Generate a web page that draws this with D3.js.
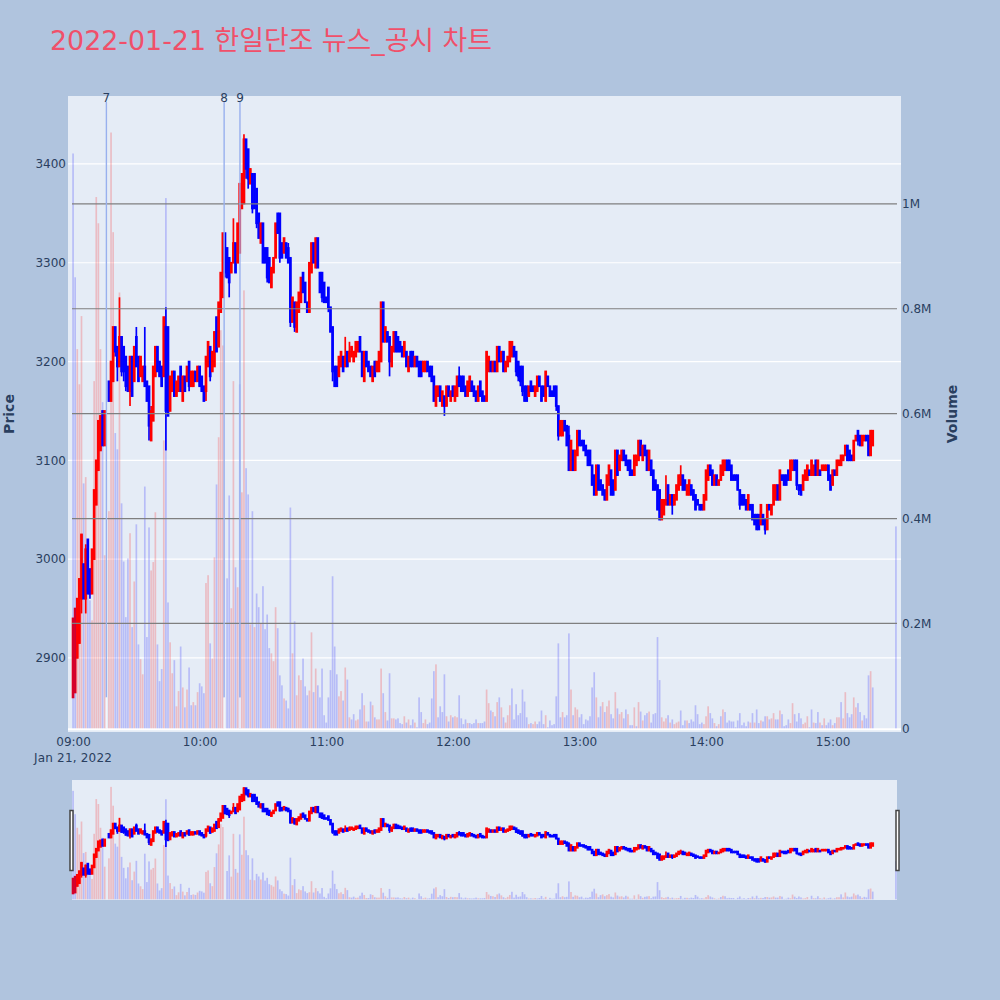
<!DOCTYPE html>
<html><head><meta charset="utf-8">
<script src="https://cdn.jsdelivr.net/npm/d3@7"></script>
<style>html,body{margin:0;padding:0;background:#b0c4de}svg{display:block}</style>
</head><body><svg id="c" width="1000" height="1000"></svg>
<script>
const titleText = "2022-01-21 한일단조 뉴스_공시 차트";
const sessionDate = "Jan 21, 2022";
const timeTicks = [0,60,120,180,240,300,360];
const timeLabels = ["09:00","10:00","11:00","12:00","13:00","14:00","15:00"];
const priceTicks = [2900,3000,3100,3200,3300,3400];
const volumeTicks = [0,200,400,600,800,1000];
const volumeTickLabels = ["0","0.2M","0.4M","0.6M","0.8M","1M"];
const newsLabels = ["7","8","9"];
const newsMinutes = [15.8,71.6,79.1];

const opens = [
2860,2865,2900,2915,2960,2995,2960,3020,2990,2965,
3000,3055,3090,3110,3150,3115,null,3180,3160,3180,
3235,3215,3195,3225,3215,3205,3195,3170,3205,3180,
3225,3205,3185,3180,3195,3180,3175,3120,3140,3185,
3215,3200,3195,3185,3235,3235,3150,3170,3190,3165,
3170,3195,3160,3185,3180,3200,3175,3175,3190,3180,
3195,3185,3175,3170,3195,3215,3190,3195,3245,3215,
3250,3265,3330,3315,3305,3290,3300,3320,3300,3310,
3355,3360,3425,3415,3380,3390,3390,3375,3350,3320,
3340,3315,3315,3305,3275,3290,3305,3350,3350,3320,
3310,3320,3315,3305,3240,3260,3230,3250,3260,3290,
3280,3260,3250,3290,3320,3295,3325,3290,3290,3280,
3265,3275,3255,3235,3195,3195,3185,3195,3205,3195,
3210,3200,3205,3200,3205,3210,3225,3210,3180,3210,
3200,3195,3180,3200,3190,3190,3200,3260,3220,3230,
3225,3195,3210,3230,3225,3220,3215,3205,3210,3190,
3210,3210,3195,3205,3200,3200,3190,3190,3200,3195,
3195,3185,3155,3165,3175,3155,3165,3155,3175,3160,
3175,3160,3165,3185,3185,3185,3175,3165,3170,3180,
3175,3170,3160,3180,3170,3165,3160,3190,3200,3190,
3200,3190,3215,3200,3210,3190,3195,3200,3205,3215,
3210,3200,3195,3195,3175,3175,3165,3180,3175,3165,
3170,3185,3175,3175,3160,3185,3175,3170,3175,3175,
3155,3125,3125,3140,3135,3125,3090,3110,3090,3105,
3130,3120,3120,3115,3110,3110,3095,3085,3065,3095,
3080,3075,3070,3060,3075,3090,3080,3070,3110,3090,
3100,3110,3105,3100,3100,3090,3085,3095,3100,3120,
3100,3115,3110,3090,3100,3090,3080,3075,3070,3040,
3045,3055,3075,3055,3065,3055,3060,3070,3075,3085,
3080,3065,3065,3075,3070,3065,3060,3055,3055,3050,
3060,3080,3095,3090,3075,3085,3075,3080,3085,3090,
3100,3100,3095,3085,3085,3085,3070,3065,3065,3060,
3050,3055,3055,3045,3045,3045,3035,3045,3040,3030,
3055,3045,3055,3060,3075,3060,3085,3085,3085,3090,
3080,3090,3100,3100,3075,3075,3070,3080,3080,3090,
3085,3085,3100,3085,3090,3090,3090,3090,3095,3085,
3075,3090,3085,3095,3095,3100,3105,3115,3110,3105,
3100,3120,3130,3125,3115,3120,3125,3125,3105,3115,
null,null,null,null,null,null,null,null,null,null,3125];
const highs = [
2940,2950,2960,2980,3025,2995,3015,3020,2990,3010,
3070,3100,3140,3145,3150,3150,null,3180,3200,3235,
3235,3215,3265,3225,3215,3205,3195,3205,3205,3215,
3235,3205,3205,3195,3235,3180,3175,3155,3195,3215,
3215,3200,3195,3245,3255,3235,3185,3190,3190,3180,
3185,3195,3185,3185,3195,3200,3190,3190,3190,3195,
3195,3185,3175,3205,3220,3215,3210,3230,3245,3260,
3290,3330,3330,3315,3305,3300,3345,3320,3340,3380,
3390,3430,3425,3415,3395,3390,3390,3375,3350,3340,
3340,3315,3315,3305,3295,3305,3340,3350,3350,3320,
3325,3320,3320,3305,3265,3260,3260,3270,3285,3290,
3280,3260,3300,3320,3320,3325,3325,3290,3290,3280,
3265,3275,3255,3235,3195,3195,3205,3210,3205,3225,
3210,3220,3215,3210,3220,3220,3225,3210,3210,3210,
3200,3195,3195,3200,3200,3210,3260,3260,3235,3230,
3225,3215,3230,3230,3225,3220,3215,3220,3210,3205,
3210,3210,3205,3205,3200,3200,3200,3200,3200,3195,
3195,3185,3175,3175,3175,3170,3165,3175,3175,3170,
3175,3175,3185,3195,3185,3185,3175,3180,3185,3180,
3175,3170,3175,3180,3170,3165,3210,3205,3200,3200,
3200,3215,3215,3210,3210,3200,3205,3220,3220,3215,
3210,3200,3195,3195,3175,3175,3175,3180,3175,3175,
3185,3185,3175,3175,3190,3185,3175,3170,3175,3175,
3155,3140,3140,3140,3135,3135,3120,3110,3110,3130,
3130,3120,3120,3115,3110,3110,3095,3085,3095,3095,
3080,3075,3070,3085,3095,3090,3080,3110,3110,3105,
3110,3110,3105,3100,3100,3090,3105,3105,3120,3120,
3115,3115,3110,3110,3100,3090,3080,3075,3070,3060,
3060,3085,3075,3065,3065,3065,3075,3085,3095,3085,
3080,3075,3080,3075,3070,3065,3060,3055,3055,3065,
3090,3095,3095,3090,3085,3085,3080,3095,3100,3100,
3100,3100,3095,3085,3085,3085,3070,3065,3065,3060,
3065,3055,3055,3045,3045,3045,3055,3045,3040,3055,
3055,3055,3075,3075,3075,3090,3085,3085,3085,3090,
3100,3100,3100,3100,3075,3075,3085,3090,3095,3090,
3100,3095,3100,3100,3090,3095,3095,3095,3095,3085,
3090,3090,3100,3100,3105,3105,3115,3115,3110,3105,
3120,3125,3130,3125,3125,3125,3125,3125,3130,3130,
null,null,null,null,null,null,null,null,null,null,3125];
const lows = [
2860,2865,2900,2915,2945,2960,2945,2965,2960,2965,
3000,3055,3090,3110,3115,3115,null,3160,3160,3180,
3205,3180,3195,3185,3180,3170,3170,3155,3165,3180,
3195,3180,3185,3180,3175,3160,3120,3120,3140,3185,
3190,3185,3175,3185,3110,3145,3150,3170,3165,3165,
3170,3170,3160,3170,3180,3170,3175,3175,3180,3180,
3175,3170,3160,3160,3195,3180,3190,3195,3210,3215,
3250,3265,3285,3285,3265,3290,3300,3290,3300,3310,
3355,3360,3385,3375,3380,3350,3355,3335,3325,3320,
3300,3300,3280,3280,3275,3290,3305,3330,3300,3305,
3310,3305,3300,3235,3240,3230,3230,3250,3260,3270,
3260,3250,3250,3290,3300,3295,3295,3270,3260,3260,
3260,3250,3230,3180,3175,3175,3185,3195,3190,3195,
3195,3200,3205,3200,3205,3210,3210,3185,3180,3195,
3190,3185,3180,3185,3190,3190,3200,3220,3220,3220,
3185,3195,3210,3210,3210,3210,3205,3205,3195,3190,
3195,3195,3195,3195,3185,3185,3190,3190,3190,3185,
3180,3160,3155,3165,3160,3155,3145,3155,3165,3160,
3165,3160,3165,3175,3170,3170,3165,3165,3170,3170,
3165,3160,3160,3165,3160,3160,3160,3190,3190,3190,
3190,3190,3200,3200,3190,3190,3195,3200,3205,3205,
3185,3180,3175,3165,3160,3160,3165,3170,3170,3165,
3170,3175,3160,3165,3160,3175,3165,3165,3165,3150,
3120,3125,3125,3130,3115,3090,3090,3090,3090,3105,
3115,3115,3110,3105,3095,3095,3075,3065,3065,3070,
3070,3065,3060,3060,3075,3065,3065,3070,3085,3090,
3100,3100,3095,3090,3085,3085,3085,3095,3100,3105,
3100,3105,3090,3090,3085,3070,3070,3050,3040,3040,
3045,3055,3055,3055,3045,3055,3060,3070,3075,3070,
3070,3065,3065,3065,3060,3050,3055,3050,3050,3050,
3060,3080,3085,3075,3075,3075,3075,3080,3085,3090,
3090,3090,3080,3080,3080,3070,3050,3055,3055,3050,
3050,3050,3040,3035,3030,3030,3035,3035,3025,3030,
3050,3045,3055,3060,3060,3060,3080,3075,3075,3080,
3080,3090,3090,3070,3065,3065,3070,3080,3080,3085,
3085,3085,3085,3085,3085,3090,3090,3090,3080,3070,
3075,3085,3085,3095,3095,3100,3105,3100,3100,3100,
3100,3120,3115,3115,3115,3120,3120,3105,3105,3115,
null,null,null,null,null,null,null,null,null,null,3125];
const closes = [
2940,2950,2960,2980,3025,2960,3010,2965,2965,3010,
3070,3100,3140,3145,3115,3150,null,3160,3200,3235,
3210,3195,3225,3190,3190,3175,3170,3205,3165,3215,
3195,3180,3205,3195,3175,3160,3135,3150,3195,3215,
3190,3185,3175,3245,3150,3145,3185,3190,3165,3180,
3185,3170,3185,3170,3195,3175,3190,3190,3180,3195,
3175,3170,3160,3205,3220,3185,3210,3230,3210,3260,
3290,3330,3290,3285,3280,3300,3320,3290,3340,3380,
3390,3425,3395,3385,3395,3355,3355,3340,3325,3340,
3300,3300,3285,3280,3295,3305,3340,3330,3305,3305,
3325,3305,3300,3240,3265,3235,3260,3270,3285,3270,
3260,3250,3300,3320,3300,3325,3295,3270,3265,3260,
3260,3255,3230,3190,3175,3175,3205,3210,3190,3205,
3195,3210,3215,3210,3220,3220,3210,3185,3210,3195,
3190,3185,3195,3185,3200,3210,3260,3220,3235,3220,
3200,3215,3230,3210,3210,3210,3205,3220,3195,3205,
3195,3195,3205,3195,3185,3185,3200,3200,3190,3185,
3180,3160,3175,3175,3160,3170,3155,3175,3165,3170,
3165,3175,3185,3175,3170,3170,3165,3180,3185,3170,
3165,3160,3175,3165,3160,3160,3210,3205,3190,3200,
3190,3215,3200,3210,3190,3200,3205,3220,3220,3205,
3190,3185,3180,3170,3160,3160,3175,3170,3170,3175,
3185,3175,3160,3165,3190,3175,3165,3165,3165,3155,
3125,3140,3140,3130,3115,3090,3120,3090,3110,3130,
3115,3115,3110,3105,3095,3095,3075,3065,3095,3070,
3070,3065,3060,3085,3095,3065,3065,3110,3085,3105,
3110,3100,3095,3090,3085,3085,3105,3105,3120,3105,
3115,3105,3090,3110,3085,3070,3070,3050,3040,3060,
3060,3060,3055,3065,3055,3065,3075,3085,3085,3070,
3070,3075,3080,3065,3060,3050,3055,3050,3050,3065,
3090,3095,3085,3075,3085,3075,3080,3095,3100,3100,
3090,3090,3080,3080,3080,3070,3055,3055,3055,3050,
3065,3050,3040,3035,3030,3030,3055,3035,3030,3055,
3050,3055,3075,3075,3060,3090,3080,3075,3075,3080,
3100,3100,3090,3075,3070,3065,3085,3090,3095,3085,
3100,3095,3085,3100,3085,3095,3095,3095,3080,3070,
3090,3085,3100,3100,3105,3105,3115,3100,3100,3100,
3120,3125,3120,3115,3125,3125,3120,3105,3130,3130,
null,null,null,null,null,null,null,null,null,null,3125];
// traded volume, thousands of shares
const volumes = [
1096,860,723,656,786,467,479,343,244,206,
662,1013,963,723,622,330,0,414,1136,946,
563,532,831,429,318,212,324,372,193,280,
389,160,132,103,461,174,383,301,317,412,
160,90,113,549,1011,240,164,105,130,42,
71,156,78,40,74,116,44,50,44,69,
86,80,67,277,292,162,133,326,465,555,
759,730,0,286,444,229,662,307,269,656,
450,835,496,446,198,414,193,257,231,200,
271,189,217,153,143,128,231,191,101,82,
57,53,38,421,143,204,63,101,92,133,
80,63,72,183,69,114,82,59,114,25,
11,59,111,290,156,103,61,71,53,116,
93,21,17,27,15,17,36,67,44,13,
13,51,44,21,17,17,114,67,31,15,
105,19,19,17,19,10,8,23,11,17,
6,17,11,2,59,31,10,17,8,11,
57,109,122,21,42,31,103,23,13,25,
21,23,21,63,19,8,17,10,10,8,
10,17,10,10,10,13,74,48,34,31,
23,50,59,40,21,11,25,44,76,17,
46,25,29,74,51,21,8,10,8,13,
8,13,34,8,25,2,15,6,8,61,
162,21,31,21,25,181,74,25,40,36,
21,27,8,17,15,23,78,107,59,21,
42,50,31,42,53,27,19,69,38,27,
31,19,36,27,6,6,40,4,50,32,
15,25,29,32,11,27,29,174,92,21,
13,19,25,11,17,8,11,13,34,6,
15,15,10,17,13,44,27,8,11,8,
23,42,29,19,10,4,8,23,36,31,
11,15,13,13,2,15,29,6,11,4,
13,11,29,11,36,10,15,13,23,23,
17,19,29,17,17,34,27,4,6,17,
10,48,27,13,29,19,8,11,23,2,
36,11,10,31,11,6,19,6,11,17,
6,10,21,21,50,19,69,29,21,27,
59,40,48,31,15,25,19,101,109,78,
null,null,null,null,null,null,null,null,null,null,385];
const volumeSides = (
"bbrrrbrbbr"+"rrrrbrbrrr"+"bbrbbbbrbr"+"bbrrbbbrrr"+"bbbrbbrrbr"+"rbrbrbbrbr"+"bbbrrbrrbr"+"rrbbbrrbrb"+
"rrbbrbrbbr"+"bbbbrrrbbb"+"rbbbrbrrrb"+"bbrrbrbbbb"+"bbbbbbrrbr"+"brbbrrbbrr"+"bbrbrrrbrb"+"brrbbbbrbr"+
"bbrbbbrrbb"+"bbrbbbbrbr"+"brrbbbbrbb"+"bbrbbbrrbr"+"brbrbrrrbb"+"bbbbbbrbrr"+"bbbbrbbbbb"+"bbrbbbrbrr"+
"bbbbbbbbrb"+"brbrrbbrbr"+"rbbrbbrbrb"+"rbbrbbbbbr"+"rrbrbrrrbb"+"brbbbbbbbr"+"rrbbrbrbrb"+"bbbbbbbbbb"+
"brbrbbrbbr"+"brrbbrbbbb"+"rrbbbbrrrb"+"brbbrbrbbb"+"rbrrbrrbbb"+"rrbbrbbbrb"+"bbbbbbbbbb"+"b").split("");

const W = 1000, H = 1000;
const plot = {l:68, r:901, t:96, b:732};
const inner = {l:72, r:897};
const slider = {t:780, b:900};
const minutes = d3.range(opens.length);

const svg = d3.select("#c");
const textColor = "#2a3f5f";
const font = "'DejaVu Sans', Verdana, sans-serif";
svg.append("rect").attr("width",W).attr("height",H).attr("fill","#b0c4de");

const x = d3.scaleLinear().domain([-0.5,390.5]).range([inner.l,inner.r]);
const priceDomain = [2825,3468.8], volDomain = [-7,1205.6];
const yP = d3.scaleLinear().domain(priceDomain).range([plot.b,plot.t]);
const yV = d3.scaleLinear().domain(volDomain).range([plot.b,plot.t]);
const yPs = d3.scaleLinear().domain(priceDomain).range([slider.b,slider.t]);
const yVs = d3.scaleLinear().domain(volDomain).range([slider.b,slider.t]);

svg.append("text").attr("x",50).attr("y",50).attr("fill","#f0506a")
  .attr("font-family","'DejaVu Sans','Noto Sans CJK KR',sans-serif").attr("font-size",26.85).text(titleText);

// plot frames
svg.append("rect").attr("x",plot.l).attr("y",plot.t).attr("width",plot.r-plot.l).attr("height",plot.b-plot.t).attr("fill","#e5ecf6");
svg.append("rect").attr("x",inner.l).attr("y",slider.t).attr("width",inner.r-inner.l).attr("height",slider.b-slider.t).attr("fill","#e5ecf6");

// price grid (white), under the candles
const gMain = svg.append("g");
gMain.selectAll("line.pg").data(priceTicks).join("line")
  .attr("x1",plot.l).attr("x2",plot.r).attr("y1",d=>yP(d)).attr("y2",d=>yP(d)).attr("stroke","#fff").attr("stroke-width",1.2);
gMain.append("line").attr("x1",plot.l).attr("x2",plot.r).attr("y1",yV(0)+1).attr("y2",yV(0)+1).attr("stroke","#fff").attr("stroke-width",2);

function candles(g, yScale){
  const data = minutes.filter(i=>opens[i]!==null);
  const colour = i => closes[i]>=opens[i] ? "#ff0000" : "#0000ff";
  g.selectAll("line.w").data(data).join("line")
    .attr("x1",i=>x(i)).attr("x2",i=>x(i))
    .attr("y1",i=>yScale(highs[i])).attr("y2",i=>yScale(lows[i]))
    .attr("stroke",colour).attr("stroke-width",1.7);
  g.selectAll("rect.b").data(data).join("rect")
    .attr("x",i=>x(i)-0.5).attr("width",1)
    .attr("y",i=>Math.min(yScale(opens[i]),yScale(closes[i])))
    .attr("height",i=>Math.abs(yScale(opens[i])-yScale(closes[i])))
    .attr("fill",colour).attr("stroke",colour).attr("stroke-width",1.7);
}
function bars(g, yScale){
  const data = minutes.filter(i=>volumes[i]);
  g.selectAll("rect").data(data).join("rect")
    .attr("x",i=>x(i)-0.85).attr("width",1.7)
    .attr("y",i=>yScale(volumes[i])).attr("height",i=>yScale(0)-yScale(volumes[i]))
    .attr("fill",i=>volumeSides[i]==="r"?"#ff0000":"#0000ff").attr("opacity",0.2);
}

candles(svg.append("g"), yP);
bars(svg.append("g"), yV);

// volume grid (grey), over the traces
svg.append("g").selectAll("line").data(volumeTicks.slice(1)).join("line")
  .attr("x1",inner.l).attr("x2",inner.r).attr("y1",d=>yV(d)).attr("y2",d=>yV(d))
  .attr("stroke","#7f7f7f").attr("stroke-width",1.2);

// news annotations
const ann = svg.append("g");
ann.selectAll("line.s").data(newsMinutes).join("line")
  .attr("x1",d=>x(d)).attr("x2",d=>x(d)).attr("y1",102).attr("y2",yP(2860))
  .attr("stroke","#98b0ee").attr("stroke-width",1.4);
ann.selectAll("line.f").data(newsMinutes).join("line")
  .attr("x1",d=>x(d)).attr("x2",d=>x(d)).attr("y1",yP(2860)).attr("y2",yV(0))
  .attr("stroke","#f4f6fb").attr("stroke-width",1.4);
ann.selectAll("text").data(newsLabels).join("text")
  .attr("x",(d,i)=>x(newsMinutes[i])).attr("y",101.5).attr("text-anchor","middle")
  .attr("font-family",font).attr("font-size",12).attr("fill",textColor).text(d=>d);

// axes
function styleAxis(g){
  g.select(".domain").remove();
  g.selectAll("line").remove();
  g.selectAll("text").attr("font-family",font).attr("font-size",12).attr("fill",textColor);
}
svg.append("g").attr("transform","translate(69,0)")
  .call(d3.axisLeft(yP).tickValues(priceTicks).tickSize(0).tickPadding(3).tickFormat(d3.format("d"))).call(styleAxis);
svg.append("g").attr("transform","translate(899,0)")
  .call(d3.axisRight(yV).tickValues(volumeTicks).tickSize(0).tickPadding(3).tickFormat((d,i)=>volumeTickLabels[i])).call(styleAxis);
svg.append("g").attr("transform","translate(0,733)")
  .call(d3.axisBottom(x).tickValues(timeTicks).tickSize(0).tickPadding(4).tickFormat((d,i)=>timeLabels[i])).call(styleAxis);
svg.append("text").attr("x",x(0)).attr("y",762).attr("text-anchor","middle").attr("letter-spacing",0.2)
  .attr("font-family",font).attr("font-size",12).attr("fill",textColor).text(sessionDate);

svg.append("text").attr("transform","translate(14,414) rotate(-90)").attr("text-anchor","middle")
  .attr("font-family",font).attr("font-size",14).attr("font-weight","bold").attr("fill",textColor).text("Price");
svg.append("text").attr("transform","translate(957,414) rotate(-90)").attr("text-anchor","middle")
  .attr("font-family",font).attr("font-size",14).attr("font-weight","bold").attr("fill",textColor).text("Volume");

// range slider
candles(svg.append("g"), yPs);
bars(svg.append("g"), yVs);
[70,896].forEach(hx=>{
  svg.append("rect").attr("x",hx).attr("y",810.5).attr("width",3).attr("height",60)
    .attr("fill","#fff").attr("stroke","#444").attr("stroke-width",1.5);
});
</script></body></html>
